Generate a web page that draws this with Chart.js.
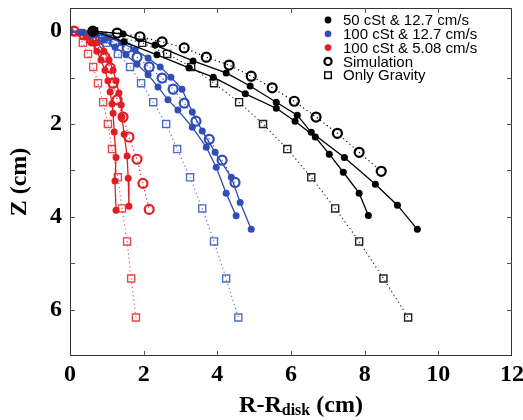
<!DOCTYPE html>
<html lang="en">
  <head>
    <meta charset="utf-8">
    <title>Film profile Z vs R-Rdisk</title>
    <script src="https://cdn.jsdelivr.net/npm/chart.js@4.4.0/dist/chart.umd.min.js"></script>
    <style>
      body { margin: 0; background: #fff; }
    </style>
  </head>
  <body>
    <canvas id="myChart" width="523" height="420"></canvas>
    <script>
      // --- data (R-Rdisk in cm, Z in cm) ---
      const xTicks = [0, 2, 4, 6, 8, 10, 12];
      const yTicks = [0, 2, 4, 6];

      // 50 cSt & 12.7 cm/s, two runs
      const r50a = [0.65, 1.44, 2.31, 3.34, 4.24, 4.89, 5.60, 6.17, 6.55, 7.45, 8.29, 8.89, 9.43];
      const z50a = [0.00, 0.06, 0.30, 0.64, 0.90, 1.18, 1.53, 1.81, 2.18, 2.72, 3.30, 3.75, 4.27];
      const r50b = [0.65, 1.47, 2.36, 3.23, 3.89, 4.76, 5.60, 6.11, 6.66, 7.04, 7.42, 7.85, 8.10];
      const z50b = [0.00, 0.23, 0.51, 0.79, 0.99, 1.35, 1.66, 1.94, 2.28, 2.65, 3.04, 3.49, 3.97];
      const r50sim = [0.62, 1.28, 1.90, 2.50, 3.10, 3.70, 4.32, 4.92, 5.49, 6.09, 6.68, 7.26, 7.85, 8.45];
      const z50sim = [0.00, 0.04, 0.12, 0.23, 0.36, 0.56, 0.73, 0.97, 1.22, 1.51, 1.85, 2.20, 2.61, 3.02];
      const r50grav = [0.65, 1.96, 2.64, 3.29, 3.91, 4.59, 5.24, 5.90, 6.55, 7.20, 7.85, 8.51, 9.18];

      // shared Z steps of the gravity-only curves
      const zGrav = [0.00, 0.25, 0.49, 0.77, 1.12, 1.53, 2.00, 2.54, 3.15, 3.82, 4.53, 5.33, 6.17];

      // 100 cSt & 12.7 cm/s, two runs
      const r100a = [0.00, 0.35, 0.71, 1.06, 1.41, 1.77, 2.12, 2.45, 2.74, 3.04, 3.32, 3.59, 3.94, 4.38, 4.62, 4.92];
      const z100a = [0.00, 0.02, 0.06, 0.14, 0.25, 0.40, 0.58, 0.77, 0.99, 1.25, 1.74, 2.15, 2.61, 3.15, 3.69, 4.27];
      const r100b = [0.00, 0.30, 0.60, 0.92, 1.22, 1.52, 1.82, 2.12, 2.39, 2.66, 2.93, 3.32, 3.70, 3.97, 4.24, 4.51];
      const z100b = [0.00, 0.02, 0.08, 0.19, 0.34, 0.51, 0.71, 0.94, 1.20, 1.48, 1.70, 2.07, 2.50, 2.93, 3.49, 3.98];
      const r100sim = [0.63, 0.90, 1.22, 1.55, 1.82, 2.15, 2.50, 2.80, 3.10, 3.42, 3.78, 4.13, 4.48];
      const z100sim = [0.04, 0.14, 0.25, 0.36, 0.56, 0.77, 1.01, 1.25, 1.55, 1.94, 2.33, 2.78, 3.26];
      const r100grav = [0.65, 0.98, 1.30, 1.63, 1.93, 2.26, 2.61, 2.91, 3.26, 3.59, 3.91, 4.24, 4.57];

      // 100 cSt & 5.08 cm/s, two runs
      const rSlowA = [0.00, 0.22, 0.43, 0.60, 0.73, 0.84, 0.95, 1.03, 1.09, 1.14, 1.17, 1.20, 1.25, 1.22, 1.25];
      const zSlowA = [0.00, 0.04, 0.12, 0.25, 0.43, 0.62, 0.84, 1.07, 1.31, 1.57, 1.77, 2.17, 2.72, 3.23, 3.86];
      const rSlowB = [0.00, 0.27, 0.52, 0.73, 0.92, 1.06, 1.17, 1.25, 1.33, 1.39, 1.41, 1.47, 1.55, 1.58, 1.60];
      const zSlowB = [0.00, 0.04, 0.12, 0.25, 0.43, 0.62, 0.84, 1.07, 1.33, 1.59, 1.85, 2.22, 2.69, 3.17, 3.77];
      const rSlowSim = [0.11, 0.38, 0.60, 0.79, 0.95, 1.09, 1.17, 1.28, 1.44, 1.60, 1.82, 1.98, 2.15];
      const zSlowSim = [0.00, 0.08, 0.21, 0.36, 0.56, 0.79, 1.12, 1.48, 1.85, 2.28, 2.76, 3.28, 3.84];
      const rSlowGrav = [0.11, 0.35, 0.49, 0.63, 0.76, 0.90, 1.03, 1.14, 1.30, 1.41, 1.55, 1.66, 1.79];

      const legendLabels = ['50 cSt & 12.7 cm/s', '100 cSt & 12.7 cm/s', '100 cSt & 5.08 cm/s', 'Simulation', 'Only Gravity'];

      const BLACK = '#000000';
      const BLUE = 'rgb(48, 78, 182)';
      const RED = 'rgb(226, 30, 36)';
      const BLUE_LT = 'rgb(80, 108, 200)';
      const RED_LT = 'rgb(236, 70, 70)';

      const pts = (rs, zs) => rs.map((r, i) => ({ x: r, y: zs[i] }));

      function expSet(rs, zs, color) {
        return {
          data: pts(rs, zs), showLine: true, borderColor: color, borderWidth: 1.3,
          pointRadius: 3.5, pointBackgroundColor: color, pointBorderWidth: 0
        };
      }
      function simSet(rs, zs, color) {
        return {
          data: pts(rs, zs), showLine: true, borderColor: color, borderWidth: 1.2, borderDash: [1.2, 3],
          pointRadius: 4.5, pointStyle: 'circle', pointBackgroundColor: 'rgba(255,255,255,0)',
          pointBorderColor: color, pointBorderWidth: 2.2
        };
      }
      function gravSet(rs, zs, color) {
        return {
          data: pts(rs, zs), showLine: true, borderColor: color, borderWidth: 1.1, borderDash: [1.2, 3],
          pointRadius: 5, pointStyle: 'rect', pointBackgroundColor: 'rgba(255,255,255,0)',
          pointBorderColor: color, pointBorderWidth: 1.4
        };
      }

      const datasets = [
        expSet(r50a, z50a, BLACK), expSet(r50b, z50b, BLACK),
        simSet(r50sim, z50sim, BLACK), gravSet(r50grav, zGrav, '#222'),
        expSet(r100a, z100a, BLUE), expSet(r100b, z100b, BLUE),
        simSet(r100sim, z100sim, BLUE), gravSet(r100grav, zGrav, BLUE_LT),
        expSet(rSlowA, zSlowA, RED), expSet(rSlowB, zSlowB, RED),
        simSet(rSlowSim, zSlowSim, RED), gravSet(rSlowGrav, zGrav, RED_LT)
      ];

      const serif = '"Liberation Serif", "Times New Roman", serif';
      const sans = '"Liberation Sans", Arial, Helvetica, sans-serif';

      // box, inward ticks, legend and the subscripted x title
      const decor = {
        id: 'decor',
        afterDraw(chart) {
          const ctx = chart.ctx, a = chart.chartArea;
          const xs = chart.scales.x, ys = chart.scales.y;
          ctx.save();
          ctx.strokeStyle = '#333';
          ctx.lineWidth = 1;
          ctx.strokeRect(a.left + 0.5, a.top + 0.5, a.right - a.left - 1, a.bottom - a.top - 1);
          ctx.strokeStyle = '#555';
          [2, 4, 6, 8, 10].forEach(v => {
            const px = Math.round(xs.getPixelForValue(v)) + 0.5;
            ctx.beginPath();
            ctx.moveTo(px, a.bottom); ctx.lineTo(px, a.bottom - 5);
            ctx.moveTo(px, a.top); ctx.lineTo(px, a.top + 5);
            ctx.stroke();
          });
          [1, 2, 3, 4, 5, 6].forEach(v => {
            const py = Math.round(ys.getPixelForValue(v)) + 0.5;
            ctx.beginPath();
            ctx.moveTo(a.left, py); ctx.lineTo(a.left + 5, py);
            ctx.moveTo(a.right, py); ctx.lineTo(a.right - 5, py);
            ctx.stroke();
          });

          // legend
          const lx = 328, ly = 20, step = 13.8;
          ctx.font = '15px ' + sans;
          ctx.textBaseline = 'middle';
          ctx.textAlign = 'left';
          const legendColors = [BLACK, BLUE, RED];
          legendLabels.forEach((t, i) => {
            const y = ly + i * step;
            ctx.fillStyle = '#000';
            ctx.fillText(t, lx + 15, y + 1);
            if (i < 3) {
              ctx.beginPath(); ctx.arc(lx, y, 3.4, 0, Math.PI * 2);
              ctx.fillStyle = legendColors[i]; ctx.fill();
            } else if (i === 3) {
              ctx.beginPath(); ctx.arc(lx, y, 3.6, 0, Math.PI * 2);
              ctx.lineWidth = 2.2; ctx.strokeStyle = '#000'; ctx.stroke();
            } else {
              ctx.lineWidth = 1.4; ctx.strokeStyle = '#000';
              ctx.strokeRect(lx - 3.3, y - 3.3, 6.6, 6.6);
            }
          });

          // x axis title with subscript
          const big = 'bold 24px ' + serif, small = 'bold 16px ' + serif;
          ctx.fillStyle = '#000';
          ctx.textBaseline = 'alphabetic';
          ctx.font = big; const w1 = ctx.measureText('R-R').width;
          ctx.font = small; const w2 = ctx.measureText('disk').width;
          ctx.font = big; const w3 = ctx.measureText(' (cm)').width;
          let x0 = 301 - (w1 + w2 + w3) / 2;
          const base = 412;
          ctx.font = big; ctx.fillText('R-R', x0, base); x0 += w1;
          ctx.font = small; ctx.fillText('disk', x0, base + 3); x0 += w2;
          ctx.font = big; ctx.fillText(' (cm)', x0, base);
          ctx.restore();
        }
      };

      var ctx = document.getElementById('myChart').getContext('2d');
      var chart = new Chart(ctx, {
        type: 'scatter',
        data: { datasets: datasets },
        options: {
          responsive: false,
          animation: false,
          layout: { padding: { left: 0, right: 11, top: 8, bottom: 0 } },
          plugins: { legend: { display: false }, tooltip: { enabled: false } },
          scales: {
            x: {
              type: 'linear', min: 0, max: 12,
              afterFit: s => { s.height = 64; s.paddingLeft = 0; s.paddingRight = 0; },
              afterBuildTicks: s => { s.ticks = xTicks.map(v => ({ value: v })); },
              grid: { display: false, drawTicks: false },
              border: { display: false },
              ticks: { padding: 4, color: '#000', font: { family: serif, size: 24, weight: 'bold' } }
            },
            y: {
              type: 'linear', min: -0.5, max: 7, reverse: true,
              afterFit: s => { s.width = 70; s.paddingTop = 0; s.paddingBottom = 0; },
              afterBuildTicks: s => { s.ticks = yTicks.map(v => ({ value: v })); },
              grid: { display: false, drawTicks: false },
              border: { display: false },
              ticks: { padding: 8, color: '#000', font: { family: serif, size: 24, weight: 'bold' } },
              title: { display: true, text: 'Z (cm)', color: '#000', padding: { top: 5, bottom: 0 },
                       font: { family: serif, size: 24, weight: 'bold' } }
            }
          }
        },
        plugins: [decor]
      });
    </script>
  </body>
</html>
